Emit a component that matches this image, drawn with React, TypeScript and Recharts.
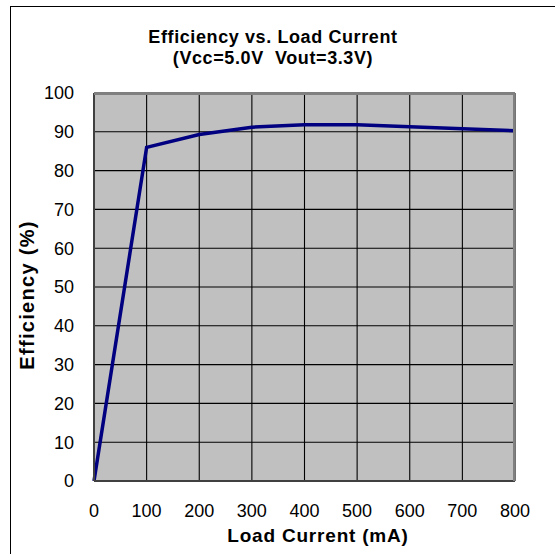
import { CartesianGrid, Line, LineChart, XAxis, YAxis } from 'recharts';

const loadCurrent = [0, 100, 200, 300, 400, 500, 600, 700, 800];
const efficiency = [0, 86, 89.3, 91.2, 91.8, 91.8, 91.3, 90.8, 90.3];
const xTicks = [0, 100, 200, 300, 400, 500, 600, 700, 800];
const yTicks = [0, 10, 20, 30, 40, 50, 60, 70, 80, 90, 100];

const data = loadCurrent.map((x, i) => ({ x, eff: efficiency[i] }));

const FONT = '"Liberation Sans", Arial, sans-serif';

export default function App() {
  return (
    <div style={{ position: 'absolute', left: 0, top: 0, width: 555, height: 554, background: '#fff', fontFamily: FONT, overflow: 'hidden' }}>
      <div style={{ position: 'absolute', left: 10, top: 6, width: 600, height: 600, border: '1px solid #000' }} />
      <div style={{ position: 'absolute', left: 0, width: 546, top: 27, textAlign: 'center', fontWeight: 'bold', fontSize: 18, letterSpacing: 0.6, lineHeight: '21px', color: '#000' }}>
        Efficiency vs. Load Current
        <br />
        (Vcc=5.0V&nbsp;&nbsp;Vout=3.3V)
      </div>
      <div style={{ position: 'absolute', left: 318, top: 536, transform: 'translate(-50%, -50%)', whiteSpace: 'nowrap', fontWeight: 'bold', fontSize: 19, letterSpacing: 0.8, color: '#000' }}>
        Load Current (mA)
      </div>
      <div style={{ position: 'absolute', left: 27, top: 295, transform: 'translate(-50%, -50%) rotate(-90deg)', whiteSpace: 'nowrap', fontWeight: 'bold', fontSize: 20, letterSpacing: 1.3, color: '#000' }}>
        Efficiency (%)
      </div>
      <div style={{ position: 'absolute', left: 0, top: 0 }}>
        <LineChart width={555} height={554} data={data} margin={{ top: 93, right: 40, left: 0, bottom: 0 }}>
          <CartesianGrid stroke="#000" strokeWidth={1.1} fill="#c0c0c0" fillOpacity={1} />
          <XAxis
            dataKey="x"
            type="number"
            domain={[0, 800]}
            ticks={xTicks}
            height={73}
            axisLine={{ stroke: '#404040', strokeWidth: 2 }}
            tickLine={false}
            tickMargin={17}
            tick={{ fill: '#000', fontSize: 18, fontFamily: FONT }}
          />
          <YAxis
            type="number"
            domain={[0, 100]}
            ticks={yTicks}
            width={94}
            axisLine={{ stroke: '#404040', strokeWidth: 2 }}
            tickLine={false}
            tickMargin={14}
            tick={{ fill: '#000', fontSize: 18, fontFamily: FONT }}
          />
          <Line dataKey="eff" stroke="#000080" strokeWidth={3.5} dot={false} isAnimationActive={false} strokeLinejoin="miter" />
        </LineChart>
      </div>
      <div style={{ position: 'absolute', left: 94, top: 93, width: 421, height: 388, boxSizing: 'border-box', borderTop: '2px solid #808080', borderRight: '2px solid #808080', pointerEvents: 'none' }} />
    </div>
  );
}
